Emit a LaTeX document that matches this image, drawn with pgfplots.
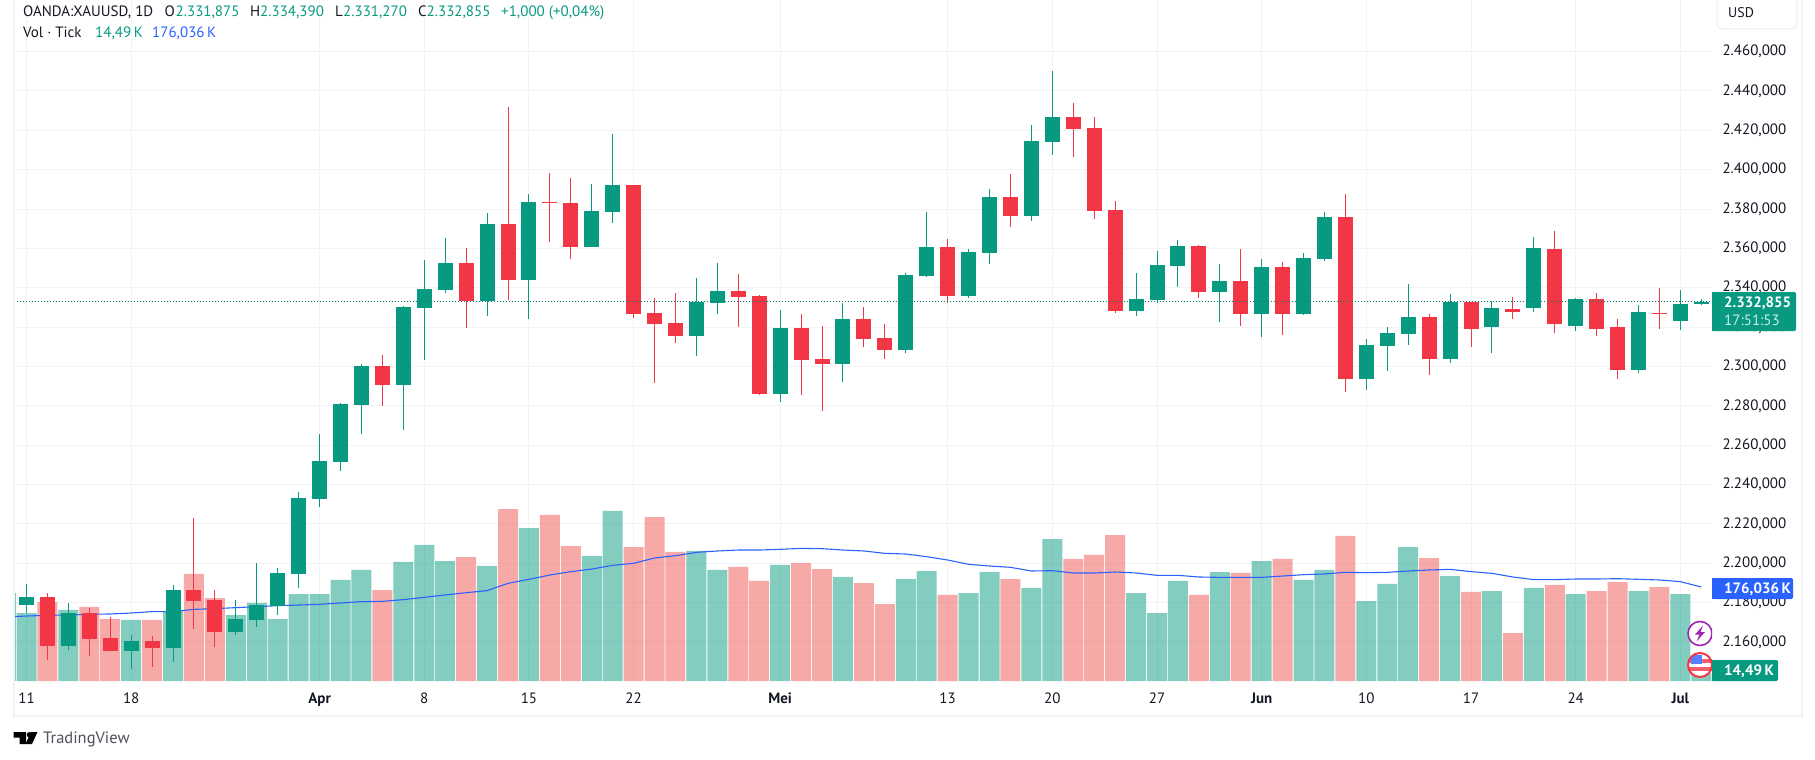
\documentclass[border=0pt]{standalone}
\usepackage{fontspec}
\setmainfont{PT Sans}
\usepackage{pgfplots}
\usepackage{pgfplotstable}
\pgfplotsset{compat=1.18}

\definecolor{upcol}{HTML}{089981}
\definecolor{downcol}{HTML}{F23645}
\definecolor{volred}{HTML}{EF5350}
\definecolor{macol}{HTML}{2962FF}
\definecolor{gridcol}{HTML}{F1F3F6}
\definecolor{framecol}{HTML}{F0F3FA}
\definecolor{txt}{HTML}{131722}
\definecolor{icopurple}{HTML}{9C27B0}

% i open high low close volume(K)
\pgfplotstableread{
i o h l c v
0 2178.8 2189.5 2174.6 2182.9 127.3
2 2158.0 2179.8 2156.0 2174.8 133.0
5 2155.5 2163.6 2146.3 2160.5 114.3
7 2157.0 2189.0 2149.9 2186.5 131.1
10 2165.1 2181.4 2163.6 2171.7 123.6
11 2171.2 2200.2 2167.6 2178.8 146.1
12 2178.3 2197.6 2173.8 2195.1 116.1
13 2194.6 2236.3 2187.5 2233.2 162.9
14 2232.7 2265.7 2228.6 2252.0 162.9
15 2251.5 2281.5 2246.9 2281.0 189.2
16 2280.5 2301.3 2265.7 2300.3 207.9
18 2290.6 2330.8 2267.8 2330.2 222.9
19 2329.7 2354.1 2303.3 2339.4 254.7
20 2338.9 2365.3 2337.4 2352.6 224.7
22 2333.3 2378.0 2325.7 2372.4 215.4
24 2344.0 2387.7 2324.2 2383.6 286.5
27 2360.7 2392.8 2360.7 2379.0 234.1
28 2378.5 2418.2 2372.9 2392.2 318.4
32 2315.5 2345.0 2305.4 2332.8 243.5
33 2332.3 2352.6 2326.7 2338.4 207.9
36 2286.1 2328.7 2282.0 2319.6 217.3
39 2301.3 2332.3 2292.1 2324.2 194.8
42 2308.4 2347.5 2306.9 2346.5 191.0
43 2346.0 2378.5 2345.5 2360.7 206.0
45 2335.9 2359.7 2334.8 2358.2 164.8
46 2357.7 2390.2 2352.1 2386.2 204.1
48 2376.5 2422.7 2374.0 2414.6 174.2
49 2414.1 2450.2 2407.5 2426.8 265.9
53 2328.2 2347.5 2325.7 2334.3 164.8
54 2333.8 2358.7 2332.3 2351.6 127.3
55 2351.1 2364.3 2340.4 2361.3 187.3
57 2337.9 2352.1 2322.6 2343.5 204.1
59 2326.7 2354.6 2315.0 2350.6 224.7
61 2326.7 2357.7 2326.2 2355.2 189.2
62 2354.6 2378.5 2353.6 2376.0 207.9
64 2293.7 2314.0 2288.1 2310.9 149.8
65 2310.4 2320.1 2297.7 2317.0 181.7
66 2316.5 2341.9 2310.9 2325.2 250.9
68 2303.8 2336.9 2301.8 2332.8 196.6
70 2320.1 2333.3 2306.9 2329.7 168.5
72 2329.7 2365.8 2327.7 2360.2 174.2
74 2320.6 2334.8 2318.1 2334.3 162.9
77 2298.2 2331.3 2296.7 2327.7 168.5
79 2323.1 2338.9 2318.6 2331.8 162.9
80 2331.875 2334.39 2331.27 2332.855 14.49
}\upcandles

\pgfplotstableread{
i o h l c v
1 2182.9 2184.9 2150.9 2158.0 147.9
3 2174.8 2177.3 2152.9 2161.6 138.6
4 2162.1 2172.7 2155.5 2155.5 116.1
6 2160.5 2163.1 2147.3 2157.0 114.3
8 2186.5 2223.0 2166.6 2180.9 200.4
9 2181.4 2186.5 2157.5 2165.1 155.4
17 2300.3 2305.9 2280.0 2290.6 170.4
21 2352.6 2360.2 2319.6 2333.3 232.2
23 2372.4 2431.9 2333.8 2344.0 322.1
25 2383.6 2398.3 2363.3 2383.1 310.9
26 2383.1 2395.8 2354.6 2360.7 252.8
29 2392.3 2392.3 2324.7 2326.7 250.9
30 2327.2 2334.8 2291.6 2321.6 307.1
31 2322.1 2337.4 2312.0 2315.5 241.6
34 2338.4 2347.0 2320.1 2335.3 213.5
35 2335.9 2336.4 2285.5 2286.1 187.3
37 2319.6 2326.7 2285.5 2303.3 221.0
38 2303.8 2320.6 2277.4 2301.3 209.7
40 2324.2 2330.3 2309.9 2314.0 183.5
41 2314.5 2321.6 2303.8 2308.4 144.2
44 2360.7 2364.8 2332.3 2335.9 161.1
47 2386.2 2397.8 2370.9 2376.5 191.0
50 2426.8 2433.9 2406.5 2420.7 228.5
51 2421.2 2426.8 2375.0 2379.0 236.0
52 2379.5 2384.1 2327.2 2328.2 273.4
56 2361.3 2361.8 2334.8 2337.9 161.1
58 2343.5 2359.7 2320.6 2326.7 202.3
60 2350.6 2353.1 2316.0 2326.7 228.5
63 2376.0 2387.7 2287.1 2293.7 271.6
67 2325.2 2326.7 2295.7 2303.8 230.3
69 2332.8 2332.8 2309.9 2319.1 166.7
71 2329.2 2335.3 2324.2 2327.7 89.9
73 2359.7 2368.9 2317.0 2321.6 179.8
75 2334.3 2337.4 2315.5 2319.1 168.5
76 2320.1 2324.2 2293.7 2298.2 185.4
78 2327.2 2339.9 2319.1 2326.7 176.0
}\downcandles

% volume moving average, K
\pgfplotstableread{
i ma
-1 119.9
0 121.7
1 123.0
2 123.6
3 124.9
4 125.5
5 127.3
6 129.9
7 129.9
8 134.2
9 135.5
10 137.4
11 139.2
12 141.1
13 142.3
14 143.6
15 146.1
16 148.6
17 149.2
18 152.3
19 156.7
20 161.1
21 165.4
22 169.2
23 182.9
24 190.4
25 198.5
26 204.8
27 209.7
28 216.6
29 220.4
30 230.3
31 234.7
32 240.9
33 243.5
34 245.3
35 245.3
36 246.6
37 248.4
38 247.8
39 245.3
40 243.5
41 239.1
42 237.8
43 232.8
44 226.6
45 218.5
46 215.4
47 212.9
48 206.0
49 206.6
50 202.3
51 202.3
52 204.1
53 202.3
54 197.9
55 197.9
56 194.8
57 194.1
58 194.1
59 194.1
60 196.6
61 199.1
62 200.4
63 203.5
64 202.9
65 203.5
66 206.0
67 207.9
68 209.1
69 204.8
70 201.6
71 194.8
72 189.8
73 189.8
74 191.0
75 191.0
76 191.6
77 190.4
78 189.2
79 186.0
80 176.036
}\matable

\newcommand{\fs}{\fontsize{15}{18}\selectfont}

\pgfplotsset{
  tvbase/.style={
    at={(13.5pt,-681pt)}, anchor=south west,
    scale only axis, width=1698.5pt, height=681pt,
    xmin=-0.621, xmax=80.51,
  },
  pricey/.style={ymin=2140.18, ymax=2486.2},
  wick/.style={
    draw=none, mark=none, forget plot,
    error bars/.cd, y dir=both, y explicit, error mark=none,
    error bar style={draw=#1, line width=1pt},
  },
  body/.style={
    draw=none, mark=none, forget plot,
    error bars/.cd, y dir=plus, y explicit, error mark=none,
    error bar style={draw=#1, line width=15pt},
  },
}

\begin{document}
\begin{tikzpicture}
\useasboundingbox (0pt,0pt) rectangle (1815pt,-760pt);

% grid and tick labels
\begin{axis}[tvbase, pricey,
  axis line style={draw=none},
  major tick length=0pt, tick style={draw=none},
  grid=major, grid style={gridcol, line width=1pt},
  xtick={0,5,14,19,24,29,36,44,49,54,59,64,69,74,79},
  xticklabels={11,18,\textbf{Apr},8,15,22,\textbf{Mei},13,20,27,\textbf{Jun},10,17,24,\textbf{Jul}},
  xticklabel style={font=\fs, text=txt, anchor=base, yshift=-22.5pt},
  ytick={2160,2180,...,2460},
  yticklabel pos=right,
  yticklabel style={font=\fs, text=txt, anchor=west, xshift=7pt,
    /pgf/number format/.cd, fixed, fixed zerofill, precision=3,
    1000 sep={.}, dec sep={,}, assume math mode=true},
]
\addplot[draw=none, forget plot] coordinates {(0,2300)};
\end{axis}

% volume and its average
\begin{axis}[tvbase, hide axis, ymin=0, ymax=1275.3]
\addplot[ybar, bar width=20pt, bar shift=0pt, draw=none, fill=upcol, fill opacity=0.5] coordinates {(-1,164.8)};
\addplot[ybar, bar width=20pt, bar shift=0pt, draw=none, fill=upcol, fill opacity=0.5] table[x=i, y=v] {\upcandles};
\addplot[ybar, bar width=20pt, bar shift=0pt, draw=none, fill=volred, fill opacity=0.5] table[x=i, y=v] {\downcandles};
\addplot[macol, line width=1.1pt, no marks] table[x=i, y=ma] {\matable};
\end{axis}

% candles: wicks and bodies are error bars around open
\begin{axis}[tvbase, pricey, hide axis]
\addplot[wick=upcol] table[x=i, y=o, y error plus expr=\thisrow{h}-\thisrow{o}, y error minus expr=\thisrow{o}-\thisrow{l}] {\upcandles};
\addplot[body=upcol] table[x=i, y=o, y error plus expr=\thisrow{c}-\thisrow{o}, y error minus expr=0] {\upcandles};
\addplot[wick=downcol] table[x=i, y=o, y error plus expr=\thisrow{h}-\thisrow{o}, y error minus expr=\thisrow{o}-\thisrow{l}] {\downcandles};
\addplot[body=downcol] table[x=i, y=c, y error plus expr=\thisrow{o}-\thisrow{c}, y error minus expr=0] {\downcandles};
\addplot[upcol!85!black, line width=1.2pt, dash pattern=on 1.2pt off 1.8pt, no marks] coordinates {(-0.621,2332.855) (80.51,2332.855)};
\end{axis}

\begin{scope}[x=1pt, y=-1pt, every node/.style={font=\fs, inner sep=0pt, anchor=base west}]
% frame
\fill[framecol] (12.5,0) rectangle (14.5,717);
\fill[framecol] (12.5,715) rectangle (1803,717);
\fill[framecol] (1801,0) rectangle (1803,717);

% USD box
\draw[framecol!80!gray!50, line width=1pt, rounded corners=5pt, fill=white] (1717,-8) rectangle (1797,29);
\node[text=txt, font=\fontsize{14}{16}\selectfont] at (1728,17.5) {USD};

% header
\node[text=txt] at (23,16.5) {OANDA:XAUUSD, 1D};
\node[text=txt] at (164.5,16.5) {O};
\node[text=upcol] at (175.5,16.5) {2.331,875};
\node[text=txt] at (250,16.5) {H};
\node[text=upcol] at (260,16.5) {2.334,390};
\node[text=txt] at (335,16.5) {L};
\node[text=upcol] at (343,16.5) {2.331,270};
\node[text=txt] at (418,16.5) {C};
\node[text=upcol] at (426.5,16.5) {2.332,855};
\node[text=upcol] at (501,16.5) {+1,000 (+0,04\%)};
\node[text=txt] at (23,38) {Vol · Tick};
\node[text=upcol] at (95,38) {14,49\,K};
\node[text=macol] at (152,38) {176,036\,K};

% icons
\begin{scope}
\clip (1680,615) rectangle (1712,681);
\draw[icopurple, line width=1.6pt, fill=white] (1700,633.5) circle (12);
\fill[icopurple] (1703,625.5) -- (1695,634.5) -- (1699.5,634.5) -- (1696.5,641.5) -- (1705,632) -- (1700.5,632) -- cycle;
\begin{scope}
\clip (1700,665) circle (12.5);
\fill[white] (1687,652) rectangle (1713,678);
\fill[downcol!80!white] (1687,659) rectangle (1713,663);
\fill[downcol!80!white] (1687,667) rectangle (1713,671);
\fill[macol!80!white] (1691,655) rectangle (1702,664);
\end{scope}
\draw[downcol, line width=2pt] (1700,665) circle (12);
\end{scope}

% price tags
\fill[upcol, rounded corners=1.5pt] (1712,292) rectangle (1796,331);
\fill[upcol] (1712,292) rectangle (1716,331);
\node[text=white, font=\fs\bfseries] at (1724,307) {2.332,855};
\node[text=white, opacity=0.8] at (1724,325) {17:51:53};
\fill[macol, rounded corners=1.5pt] (1712,578) rectangle (1793,599);
\fill[macol] (1712,578) rectangle (1716,599);
\node[text=white, font=\fs\bfseries] at (1724,593) {176,036\,K};
\fill[upcol, rounded corners=1.5pt] (1712,660) rectangle (1778,681);
\fill[upcol] (1712,660) rectangle (1716,681);
\node[text=white, font=\fs\bfseries] at (1724,675.5) {14,49\,K};

% logo
\fill[black] (13.5,732) -- (26,732) -- (26,744) -- (19.5,744) -- (19.5,737.5) -- (13.5,737.5) -- cycle;
\fill[black] (29.5,734.8) circle (2.8);
\fill[black] (37.5,732) -- (32,744) -- (25.5,744) -- (31,732) -- cycle;
\node[text=txt!75, font=\fontsize{16.5}{18}\selectfont] at (43,743.5) {TradingView};
\end{scope}
\end{tikzpicture}
\end{document}
